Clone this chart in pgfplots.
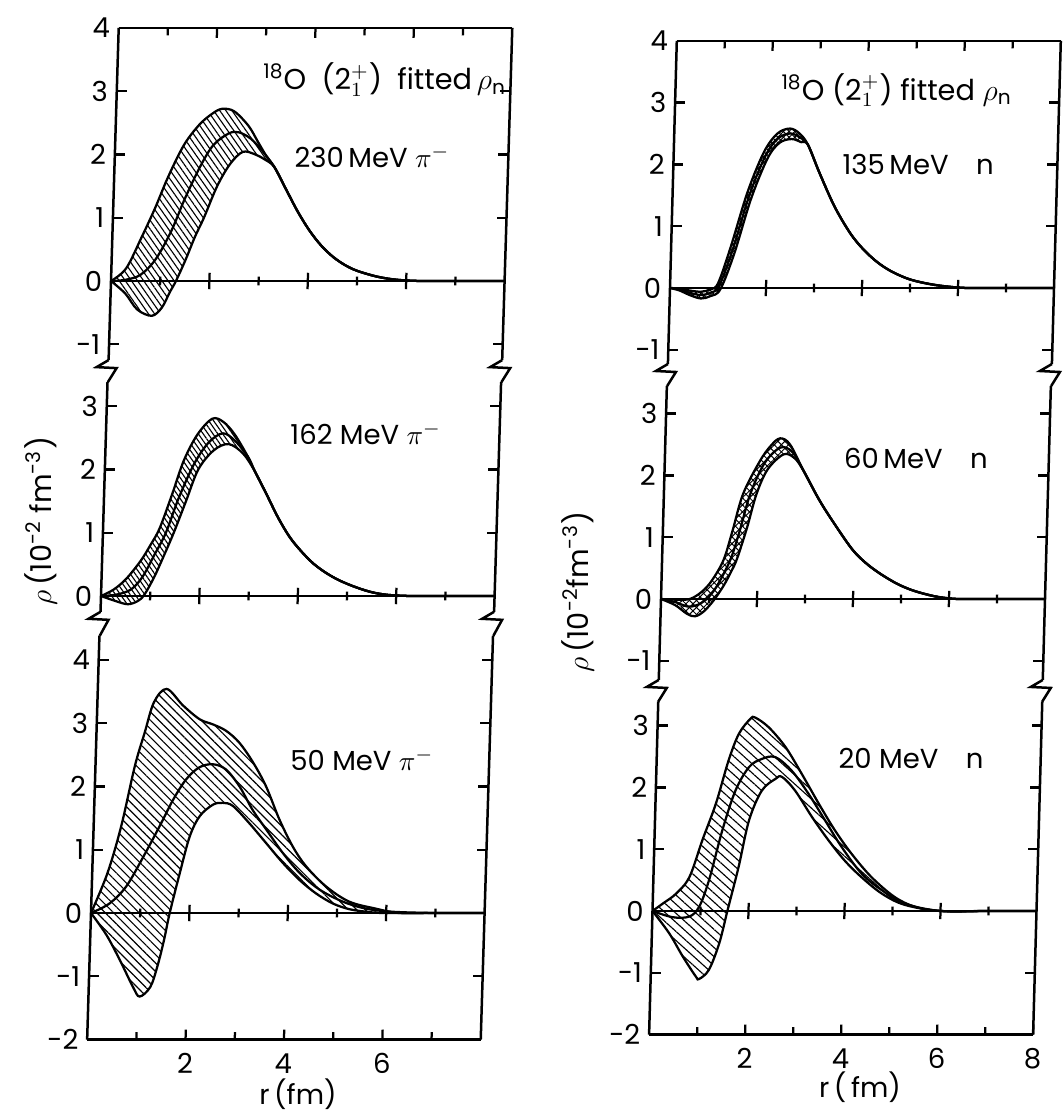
\documentclass[border=0pt]{standalone}
\usepackage{fontspec}
\setmainfont{Poppins}
\usepackage{pgfplots}
\pgfplotsset{compat=1.18}
\usepgfplotslibrary{fillbetween}
\usetikzlibrary{patterns.meta}

\tikzset{axl/.style={black, line width=1pt},
  crv/.style={black, line width=0.9pt, smooth, tension=0.55, mark=none}}
\pgfplotsset{
  panel/.style={
    clip=false, xmin=0, xmax=8,
    axis line style={draw=none},
    tick align=inside,
    major tick length=4pt, minor tick length=3pt,
    tick style={black, line width=0.9pt},
    ytick={-2,-1,0,1,2,3,4},
    ytick pos=both, yticklabel pos=left,
    ticklabel style={font=\fontsize{11}{13}\selectfont},
    /pgf/number format/assume math mode=true,
    anchor=origin,
  },
  lcol/.style={x={(19.68pt,0pt)}, y={(0.77pt,25.32pt)}},
  rcol/.style={x={(19.2pt,0pt)}, y={(0.68pt,24.72pt)}},
  toppanel/.style={xtick={2,4,6}, minor xtick={1,3,5,7}, xtick pos=right, xticklabels={}},
  midpanel/.style={xtick=\empty},
}
\newcommand{\zeroline}{%
  \draw[axl] (axis cs:0,0) -- (axis cs:8,0);
  \pgfplotsinvokeforeach{2,4,6}{\draw[line width=0.9pt] (axis cs:##1,-0.13) -- (axis cs:##1,0.13);}
  \pgfplotsinvokeforeach{1,3,5,7}{\draw[line width=0.9pt] (axis cs:##1,-0.07) -- (axis cs:##1,0.07);}
}
\newcommand{\sides}{%
  \draw[axl] (rel axis cs:0,0) -- (rel axis cs:0,1);
  \draw[axl] (rel axis cs:1,0) -- (rel axis cs:1,1);
}
% break symbol below the lower corners of an axis; #1 = last vertical drop
\newcommand{\brk}[1]{%
  \draw[axl] (rel axis cs:0,0) -- ++(-4.8pt,-2.8pt) -- ++(8pt,-0.4pt) -- ++(-3.5pt,-#1);
  \draw[axl] (rel axis cs:1,0) -- ++(-4.8pt,-2.8pt) -- ++(8pt,-0.4pt) -- ++(-3.5pt,-#1);
}

\begin{document}
\begin{tikzpicture}
\def\lab{\fontsize{11}{13}\selectfont}
% ================= LEFT TOP: 230 MeV pi-
\begin{axis}[panel, lcol, toppanel, name=LT, at={(44.4pt,332.8pt)}, ymin=-1.25, ymax=4]
\sides
\draw[axl] (rel axis cs:0,1) -- (rel axis cs:1,1);
\zeroline
\brk{5.6pt}
\addplot[crv, name path=LTu] coordinates {(0,0) (0.3,0.2) (0.6,0.7) (0.85,1.15) (1.1,1.65) (1.4,2.15) (1.7,2.47) (1.95,2.64) (2.15,2.72) (2.4,2.68) (2.7,2.45) (2.9,2.2) (3.1,1.95) (3.25,1.8) (3.5,1.45) (3.75,1.1) (4.0,0.8) (4.25,0.56) (4.5,0.38) (4.75,0.25) (5.0,0.16) (5.4,0.07) (5.8,0.02) (6.3,0.0) (7,0) (8,0)};
\addplot[crv] coordinates {(0,0) (0.3,0.02) (0.6,0.1) (0.9,0.35) (1.2,0.8) (1.45,1.3) (1.75,1.82) (2.0,2.15) (2.3,2.33) (2.5,2.35) (2.75,2.25) (3.0,2.05) (3.25,1.8) (3.5,1.45) (3.75,1.1) (4.0,0.8) (4.25,0.56) (4.5,0.38) (4.75,0.25) (5.0,0.16) (5.4,0.07) (5.8,0.02) (6.3,0.0) (7,0) (8,0)};
\addplot[crv, name path=LTl] coordinates {(0,0) (0.3,-0.2) (0.55,-0.45) (0.85,-0.55) (1.05,-0.42) (1.2,-0.18) (1.32,0) (1.5,0.33) (1.68,0.7) (1.85,1.0) (2.1,1.5) (2.35,1.85) (2.6,2.04) (2.85,2.0) (3.05,1.92) (3.25,1.8) (3.5,1.45) (3.75,1.1) (4.0,0.8) (4.25,0.56) (4.5,0.38) (4.75,0.25) (5.0,0.16) (5.4,0.07) (5.8,0.02) (6.3,0.0) (7,0) (8,0)};
\addplot[draw=none, pattern={Lines[angle=-55,distance=2pt,line width=0.45pt]}] fill between[of=LTu and LTl];
\node[font=\fontsize{11.5}{13}\selectfont] at (axis cs:5.44,3.18) {\textsuperscript{18}O\ \ (2$^{+}_{1}$)\ \ fitted\,$\rho$\textsubscript{n}};
\node[font=\lab] at (axis cs:5.23,1.96) {230\,MeV $\pi^{-}$};
\end{axis}
% ================= LEFT MIDDLE: 162 MeV pi-
\begin{axis}[panel, lcol, midpanel, name=LM, at={(40.4pt,206.8pt)}, ymin=-0.25, ymax=3.38]
\sides
\zeroline
\brk{6.4pt}
\addplot[crv, name path=LMu] coordinates {(0,0) (0.25,0.1) (0.5,0.27) (0.78,0.55) (0.97,0.8) (1.15,1.07) (1.38,1.6) (1.6,2.14) (1.86,2.55) (2.15,2.8) (2.38,2.75) (2.62,2.55) (2.9,2.2) (3.05,1.97) (3.3,1.61) (3.55,1.24) (3.8,0.93) (4.05,0.7) (4.3,0.51) (4.55,0.37) (4.8,0.26) (5.1,0.16) (5.45,0.07) (5.8,0.02) (6.3,0.0) (7,0) (8,0)};
\addplot[crv] coordinates {(0,0) (0.3,0.02) (0.6,0.1) (0.83,0.3) (1.06,0.65) (1.28,1.0) (1.52,1.55) (1.82,2.1) (2.1,2.43) (2.38,2.57) (2.63,2.45) (2.9,2.2) (3.05,1.97) (3.3,1.61) (3.55,1.24) (3.8,0.93) (4.05,0.7) (4.3,0.51) (4.55,0.37) (4.8,0.26) (5.1,0.16) (5.45,0.07) (5.8,0.02) (6.3,0.0) (7,0) (8,0)};
\addplot[crv, name path=LMl] coordinates {(0,0) (0.3,-0.08) (0.55,-0.13) (0.75,-0.08) (0.88,0.02) (1.07,0.3) (1.26,0.65) (1.44,1.0) (1.67,1.5) (1.9,2.0) (2.2,2.3) (2.5,2.4) (2.8,2.25) (3.05,1.97) (3.3,1.61) (3.55,1.24) (3.8,0.93) (4.05,0.7) (4.3,0.51) (4.55,0.37) (4.8,0.26) (5.1,0.16) (5.45,0.07) (5.8,0.02) (6.3,0.0) (7,0) (8,0)};
\addplot[draw=none, pattern={Lines[angle=-55,distance=1.6pt,line width=0.45pt]}] fill between[of=LMu and LMl];
\node[font=\lab] at (axis cs:5.28,2.57) {162 MeV $\pi^{-}$};
\end{axis}
% ================= LEFT BOTTOM: 50 MeV pi-
\begin{axis}[panel, lcol, name=LB, at={(36.4pt,80pt)}, ymin=-2, ymax=4.38,
  xtick={2,4,6}, minor xtick={1,3,5,7}, xtick pos=left, xticklabel style={yshift=-2pt}]
\sides
\draw[axl] (rel axis cs:0,0) -- (rel axis cs:1,0);
\zeroline
\addplot[crv, name path=LBu] coordinates {(0,0) (0.31,0.63) (0.56,1.37) (0.8,2.32) (0.98,2.85) (1.15,3.33) (1.4,3.54) (1.74,3.28) (2.09,3.06) (2.36,2.98) (2.63,2.88) (2.91,2.69) (3.2,2.38) (3.48,2.0) (3.77,1.48) (4.06,1.05) (4.34,0.74) (4.76,0.42) (5.24,0.18) (5.78,0.07) (6.26,0.0) (7,0) (8,0)};
\addplot[crv] coordinates {(0,0) (0.37,0.15) (0.7,0.42) (1.03,0.89) (1.34,1.37) (1.6,1.79) (1.85,2.11) (2.11,2.3) (2.38,2.35) (2.65,2.27) (2.94,2.0) (3.22,1.63) (3.51,1.32) (3.86,0.95) (4.22,0.63) (4.63,0.37) (5.11,0.18) (5.58,0.07) (6.12,0.02) (7,0) (8,0)};
\addplot[crv, name path=LBl] coordinates {(0,0) (0.33,-0.35) (0.62,-0.75) (0.9,-1.17) (1.04,-1.32) (1.25,-1.17) (1.38,-0.85) (1.5,-0.43) (1.6,0) (1.78,0.63) (1.96,1.21) (2.15,1.53) (2.41,1.71) (2.61,1.74) (2.82,1.69) (3.16,1.42) (3.51,1.11) (3.87,0.79) (4.22,0.52) (4.56,0.31) (4.91,0.15) (5.25,0.06) (5.6,0.02) (5.95,0) (7,0) (8,0)};
\addplot[draw=none, pattern={Lines[angle=-45,distance=2.4pt,line width=0.45pt]}] fill between[of=LBu and LBl];
\node[font=\lab] at (axis cs:5.41,2.42) {50 MeV $\pi^{-}$};
\end{axis}
% ================= RIGHT TOP: 135 MeV n
\begin{axis}[panel, rcol, toppanel, name=RT, at={(268pt,330pt)}, ymin=-1.23, ymax=4]
\sides
\draw[axl] (rel axis cs:0,1) -- (rel axis cs:1,1);
\zeroline
\brk{5.6pt}
\addplot[crv, name path=RTu] coordinates {(0,0) (0.2,-0.01) (0.4,-0.04) (0.65,-0.06) (0.85,-0.02) (1.0,0.08) (1.24,0.66) (1.56,1.55) (1.88,2.2) (2.15,2.5) (2.41,2.58) (2.61,2.5) (2.79,2.32) (3.05,1.86) (3.38,1.32) (3.72,0.89) (4.0,0.63) (4.3,0.42) (4.6,0.27) (4.95,0.15) (5.3,0.08) (5.7,0.03) (6.2,0.0) (7,0) (8,0)};
\addplot[crv] coordinates {(0,0) (0.2,-0.025) (0.4,-0.075) (0.65,-0.115) (0.85,-0.075) (1.02,0.03) (1.28,0.61) (1.6,1.5) (1.92,2.15) (2.18,2.43) (2.43,2.5) (2.63,2.43) (2.79,2.32) (3.05,1.86) (3.38,1.32) (3.72,0.89) (4.0,0.63) (4.3,0.42) (4.6,0.27) (4.95,0.15) (5.3,0.08) (5.7,0.03) (6.2,0.0) (7,0) (8,0)};
\addplot[crv, name path=RTl] coordinates {(0,0) (0.2,-0.04) (0.4,-0.11) (0.65,-0.17) (0.85,-0.13) (1.05,-0.02) (1.32,0.56) (1.64,1.45) (1.96,2.1) (2.2,2.35) (2.45,2.41) (2.65,2.36) (2.79,2.32) (3.05,1.86) (3.38,1.32) (3.72,0.89) (4.0,0.63) (4.3,0.42) (4.6,0.27) (4.95,0.15) (5.3,0.08) (5.7,0.03) (6.2,0.0) (7,0) (8,0)};
\addplot[draw=none, pattern={Lines[angle=45,distance=1.6pt,line width=0.4pt]}] fill between[of=RTu and RTl];
\addplot[draw=none, pattern={Lines[angle=-45,distance=1.6pt,line width=0.4pt]}] fill between[of=RTu and RTl];
\node[font=\fontsize{11.5}{13}\selectfont] at (axis cs:4.61,3.2) {\textsuperscript{18}O\ (2$^{+}_{1}$)\ fitted\ $\rho$\textsubscript{n}};
\node[font=\lab] at (axis cs:5.1,2.0) {135\,MeV\quad n};
\end{axis}
% ================= RIGHT MIDDLE: 60 MeV n
\begin{axis}[panel, rcol, midpanel, name=RM, at={(264.4pt,205.6pt)}, ymin=-1.31, ymax=3.45]
\sides
\zeroline
\brk{5.6pt}
\addplot[crv, name path=RMu] coordinates {(0,0) (0.3,-0.01) (0.6,0.0) (0.85,0.12) (1.05,0.3) (1.28,0.63) (1.45,1.1) (1.65,1.7) (1.98,2.23) (2.2,2.48) (2.39,2.6) (2.6,2.5) (2.9,2.07) (3.25,1.59) (3.62,1.16) (3.97,0.79) (4.25,0.58) (4.55,0.41) (4.9,0.25) (5.2,0.15) (5.5,0.08) (5.8,0.03) (6.2,0.0) (7,0) (8,0)};
\addplot[crv] coordinates {(0,0) (0.3,-0.05) (0.55,-0.12) (0.75,-0.1) (0.95,0.0) (1.15,0.2) (1.42,0.63) (1.6,1.1) (1.8,1.7) (2.08,2.2) (2.4,2.45) (2.65,2.38) (2.9,2.07) (3.25,1.59) (3.62,1.16) (3.97,0.79) (4.25,0.58) (4.55,0.41) (4.9,0.25) (5.2,0.15) (5.5,0.08) (5.8,0.03) (6.2,0.0) (7,0) (8,0)};
\addplot[crv, name path=RMl] coordinates {(0,0) (0.3,-0.1) (0.55,-0.24) (0.72,-0.28) (0.9,-0.2) (1.1,-0.02) (1.3,0.22) (1.45,0.45) (1.56,0.65) (1.75,1.15) (1.93,1.7) (2.15,2.1) (2.47,2.34) (2.7,2.28) (2.9,2.07) (3.25,1.59) (3.62,1.16) (3.97,0.79) (4.25,0.58) (4.55,0.41) (4.9,0.25) (5.2,0.15) (5.5,0.08) (5.8,0.03) (6.2,0.0) (7,0) (8,0)};
\addplot[draw=none, pattern={Lines[angle=45,distance=2pt,line width=0.4pt]}] fill between[of=RMu and RMl];
\addplot[draw=none, pattern={Lines[angle=-45,distance=2pt,line width=0.4pt]}] fill between[of=RMu and RMl];
\node[font=\lab] at (axis cs:5.23,2.27) {60\,MeV\quad n};
\end{axis}
% ================= RIGHT BOTTOM: 20 MeV n
\begin{axis}[panel, rcol, name=RB, at={(261pt,80.8pt)}, ymin=-2, ymax=3.38,
  xtick={2,4,6,8}, minor xtick={1,3,5,7}, xtick pos=left, xticklabel style={yshift=-2pt}]
\sides
\draw[axl] (rel axis cs:0,0) -- (rel axis cs:1,0);
\zeroline
\addplot[crv, name path=RBu] coordinates {(0,0) (0.21,0.12) (0.48,0.28) (0.75,0.55) (1.0,1.15) (1.26,1.74) (1.5,2.44) (1.7,2.87) (1.93,3.11) (2.03,3.13) (2.32,2.97) (2.68,2.65) (3.03,2.22) (3.4,1.74) (3.75,1.31) (4.11,0.93) (4.54,0.55) (5.03,0.23) (5.46,0.07) (6.0,0.0) (7,0) (8,0)};
\addplot[crv] coordinates {(0,0) (0.42,-0.1) (0.77,-0.09) (0.97,0.07) (1.16,0.5) (1.41,1.31) (1.66,1.95) (1.93,2.33) (2.19,2.46) (2.47,2.49) (2.82,2.27) (3.18,1.9) (3.54,1.47) (3.9,1.04) (4.33,0.61) (4.76,0.34) (5.25,0.12) (6.0,0) (7,0) (8,0)};
\addplot[crv, name path=RBl] coordinates {(0,0) (0.36,-0.36) (0.66,-0.74) (0.94,-1.06) (1.01,-1.1) (1.21,-0.95) (1.41,-0.52) (1.56,0) (1.77,0.72) (1.96,1.47) (2.21,1.95) (2.49,2.14) (2.62,2.17) (2.9,1.95) (3.27,1.52) (3.62,1.15) (3.97,0.82) (4.33,0.55) (4.77,0.28) (5.25,0.1) (6.0,0) (7,0) (8,0)};
\addplot[draw=none, pattern={Lines[angle=-42,distance=2.7pt,line width=0.45pt]}] fill between[of=RBu and RBl];
\node[font=\lab] at (axis cs:5.3,2.46) {20 MeV\quad n};
\end{axis}
% ================= axis titles
\node[rotate=90, font=\fontsize{11.5}{14}\selectfont] at (16.2pt,236.8pt) {$\rho$\,(10\textsuperscript{-2}\ fm\textsuperscript{-3})};
\node[rotate=90, font=\fontsize{11.5}{14}\selectfont] at (231pt,208.4pt) {$\rho$\,(10\textsuperscript{-2}fm\textsuperscript{-3})};
\node[font=\fontsize{11}{13}\selectfont, inner sep=0pt] at (119.2pt,7.4pt) {r\,(fm)};
\node[font=\fontsize{11}{13}\selectfont] at (344pt,10.4pt) {r\,(\,fm)};
\pgfresetboundingbox
\path (0,0) rectangle (425.6pt,445.2pt);
\end{tikzpicture}
\end{document}
